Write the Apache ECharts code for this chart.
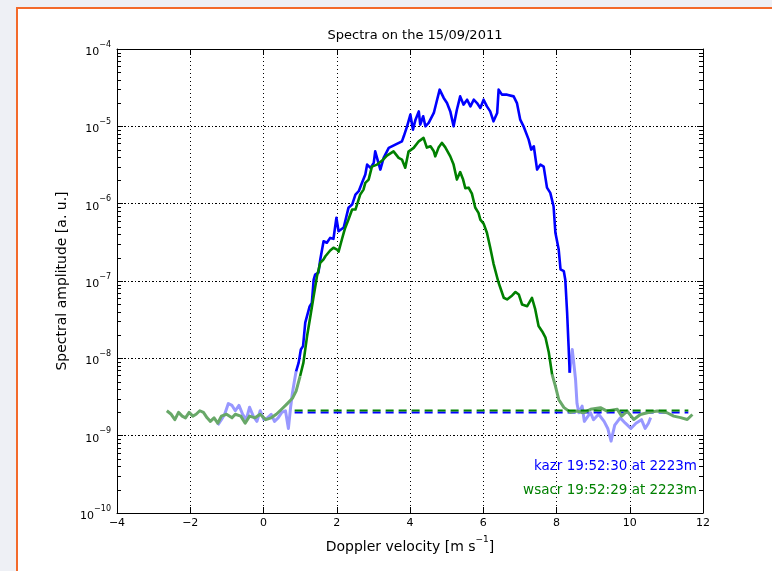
<!DOCTYPE html>
<html><head><meta charset="utf-8">
<script src="https://cdn.jsdelivr.net/npm/echarts@6/dist/echarts.min.js"></script>
<style>
html,body{margin:0;padding:0;background:#eef0f5;overflow:hidden;}
#frame{position:absolute;left:16px;top:7px;width:820px;height:620px;background:#fff;border:2px solid #f36a2b;}
#c{position:absolute;left:0;top:0;width:772px;height:571px;}
</style>
</head><body><div id="frame"></div><div id="c"></div>
<script>
// ---- data ----
const titleText = 'Spectra on the 15/09/2011';
const xName = 'Doppler velocity [m s';
const yName = 'Spectral amplitude [a. u.]';
const xRange = [-4, 12];
const xStep = 2;
const yDecades = [-10, -9, -8, -7, -6, -5, -4];
const kazrLabel = 'kazr 19:52:30 at 2223m';
const wsacrLabel = 'wsacr 19:52:29 at 2223m';

const kazrNoiseLeft = [[-1.25,1.37e-9],[-1.15,1.61e-9],[-1.06,1.89e-9],[-0.96,2.6e-9],[-0.86,2.46e-9],[-0.77,2.1e-9],[-0.67,2.46e-9],[-0.57,1.89e-9],[-0.47,1.61e-9],[-0.38,2.33e-9],[-0.28,1.79e-9],[-0.18,1.53e-9],[-0.09,2.1e-9],[0.01,1.61e-9],[0.11,1.7e-9],[0.21,1.89e-9],[0.30,1.53e-9],[0.40,1.7e-9],[0.50,2.0e-9],[0.60,2.1e-9],[0.68,1.24e-9],[0.74,2.33e-9],[0.79,3.56e-9],[0.85,5.3e-9],[0.89,6.8e-9]];
const kazrSignal = [[0.89,6.8e-9],[0.96,8.8e-9],[1.02,1.3e-8],[1.08,1.44e-8],[1.14,2.9e-8],[1.19,3.0e-8],[1.26,4.7e-8],[1.32,5.2e-8],[1.37,1.04e-7],[1.41,1.21e-7],[1.50,1.28e-7],[1.55,1.9e-7],[1.64,3.27e-7],[1.73,3.12e-7],[1.82,3.61e-7],[1.91,3.51e-7],[1.99,6.56e-7],[2.05,4.4e-7],[2.19,4.91e-7],[2.32,8.83e-7],[2.42,9.73e-7],[2.51,1.31e-6],[2.60,1.45e-6],[2.69,1.86e-6],[2.78,2.38e-6],[2.83,3.2e-6],[2.92,2.9e-6],[3.01,3.37e-6],[3.05,4.75e-6],[3.19,2.76e-6],[3.28,3.91e-6],[3.42,5.26e-6],[3.60,5.81e-6],[3.78,6.4e-6],[3.83,7.43e-6],[3.92,1.0e-5],[4.01,1.42e-5],[4.08,9.06e-6],[4.15,1.22e-5],[4.24,1.56e-5],[4.28,1.05e-5],[4.36,1.35e-5],[4.42,1.0e-5],[4.51,1.11e-5],[4.65,1.49e-5],[4.74,2.21e-5],[4.81,2.98e-5],[4.92,2.33e-5],[5.01,2.0e-5],[5.10,1.56e-5],[5.19,1.0e-5],[5.28,1.64e-5],[5.37,2.44e-5],[5.46,1.91e-5],[5.56,2.21e-5],[5.65,1.81e-5],[5.74,2.21e-5],[5.83,2.0e-5],[5.92,1.73e-5],[6.01,2.21e-5],[6.10,1.81e-5],[6.19,1.56e-5],[6.28,1.16e-5],[6.38,1.49e-5],[6.42,2.98e-5],[6.51,2.57e-5],[6.65,2.57e-5],[6.83,2.44e-5],[6.92,2.0e-5],[7.01,1.22e-5],[7.10,1.0e-5],[7.24,6.73e-6],[7.31,5.0e-6],[7.38,5.52e-6],[7.47,2.76e-6],[7.56,3.2e-6],[7.65,3.01e-6],[7.74,1.61e-6],[7.83,1.38e-6],[7.92,9.25e-7],[7.97,4.2e-7],[8.06,2.55e-7],[8.11,1.41e-7],[8.20,1.34e-7],[8.24,1.04e-7],[8.29,3.88e-8],[8.33,1.44e-8],[8.36,6.5e-9]];
const kazrNoiseRight = [[8.36,6.5e-9],[8.43,1.3e-8],[8.47,8.85e-9],[8.52,5.33e-9],[8.56,2.6e-9],[8.61,1.98e-9],[8.70,2.41e-9],[8.76,1.53e-9],[8.86,1.79e-9],[8.93,1.98e-9],[9.01,1.61e-9],[9.15,1.89e-9],[9.30,1.53e-9],[9.40,1.24e-9],[9.49,8.5e-10],[9.59,1.37e-9],[9.74,1.7e-9],[9.88,1.45e-9],[10.03,1.24e-9],[10.17,1.45e-9],[10.32,1.61e-9],[10.42,1.24e-9],[10.51,1.45e-9],[10.57,1.71e-9]];

const wsacrNoiseLeft = [[-2.64,2.1e-9],[-2.52,1.89e-9],[-2.42,1.61e-9],[-2.32,2.0e-9],[-2.22,1.79e-9],[-2.13,1.7e-9],[-2.03,2.0e-9],[-1.93,1.79e-9],[-1.84,1.89e-9],[-1.74,2.1e-9],[-1.64,2.0e-9],[-1.54,1.7e-9],[-1.45,1.53e-9],[-1.35,1.7e-9],[-1.25,1.45e-9],[-1.15,1.79e-9],[-1.01,1.89e-9],[-0.86,1.7e-9],[-0.77,1.89e-9],[-0.62,1.79e-9],[-0.50,1.45e-9],[-0.38,1.79e-9],[-0.23,1.7e-9],[-0.09,1.89e-9],[0.06,1.61e-9],[0.21,1.7e-9],[0.35,1.89e-9],[0.50,2.21e-9],[0.65,2.6e-9],[0.79,3.04e-9],[0.89,3.76e-9],[1.00,5.9e-9]];
const wsacrSignal = [[1.00,5.9e-9],[1.09,8.8e-9],[1.19,1.94e-8],[1.28,3.5e-8],[1.37,6.4e-8],[1.46,1.15e-7],[1.55,1.72e-7],[1.64,1.9e-7],[1.69,2.09e-7],[1.82,2.48e-7],[1.91,2.69e-7],[2.01,2.55e-7],[2.05,2.4e-7],[2.14,3.44e-7],[2.19,4.2e-7],[2.23,4.86e-7],[2.32,6.23e-7],[2.37,7.23e-7],[2.42,8.39e-7],[2.51,8.39e-7],[2.55,8.83e-7],[2.64,1.31e-6],[2.73,1.52e-6],[2.78,1.86e-6],[2.87,2.05e-6],[2.96,3.01e-6],[3.10,3.2e-6],[3.14,3.2e-6],[3.24,3.61e-6],[3.37,4.18e-6],[3.55,4.75e-6],[3.69,3.91e-6],[3.78,3.72e-6],[3.87,2.92e-6],[3.96,4.71e-6],[4.10,5.26e-6],[4.24,6.4e-6],[4.37,7.08e-6],[4.46,5.31e-6],[4.56,5.52e-6],[4.65,4.75e-6],[4.69,4.09e-6],[4.78,5.31e-6],[4.87,6.11e-6],[4.96,5.38e-6],[5.10,4.09e-6],[5.19,3.2e-6],[5.28,2.05e-6],[5.37,2.56e-6],[5.45,2.05e-6],[5.51,1.59e-6],[5.60,1.61e-6],[5.69,1.35e-6],[5.78,8.91e-7],[5.87,7.6e-7],[5.92,6.23e-7],[6.01,5.53e-7],[6.10,4.2e-7],[6.19,2.71e-7],[6.28,1.68e-7],[6.38,1.11e-7],[6.42,9.48e-8],[6.56,6.07e-8],[6.65,5.77e-8],[6.79,6.5e-8],[6.88,7.21e-8],[6.97,6.7e-8],[7.06,4.97e-8],[7.20,4.72e-8],[7.33,6.07e-8],[7.42,4.29e-8],[7.51,2.61e-8],[7.61,2.23e-8],[7.70,1.85e-8],[7.79,1.19e-8],[7.88,6.19e-9]];
const wsacrNoiseRight = [[7.88,6.19e-9],[7.97,4.38e-9],[8.06,2.94e-9],[8.20,2.32e-9],[8.38,2.0e-9],[8.56,2.08e-9],[8.74,1.98e-9],[8.93,2.19e-9],[9.20,2.3e-9],[9.38,2.08e-9],[9.66,2.19e-9],[9.78,1.79e-9],[9.93,2.08e-9],[10.11,1.62e-9],[10.29,1.88e-9],[10.48,1.98e-9],[10.75,2.08e-9],[11.02,1.98e-9],[11.20,1.79e-9],[11.39,1.71e-9],[11.57,1.62e-9],[11.71,1.88e-9]];

const kazrNoiseLevel = 2.0e-9;
const wsacrNoiseLevel = 2.12e-9;
const noiseLevelSpan = [0.85, 11.6];

// ---- styles ----
const FONT = 'DejaVu Sans';
const BLUE = '#0000ff', LBLUE = '#9898ff', GREEN = '#008000', LGREEN = '#68a868';

function yLab(v) {
  const e = Math.round(Math.log10(v));
  return '{b|10}{s|\u2212' + (-e) + '}';
}
const yRich = {
  b: {fontSize: 11, fontFamily: FONT, color: '#000', padding: [6, 0, 0, 0], verticalAlign: 'bottom'},
  s: {fontSize: 8, fontFamily: FONT, color: '#000', verticalAlign: 'top'}
};

function lineSeries(data, color, width, z, dash) {
  return {
    type: 'line', data: data, showSymbol: false, symbol: 'none', silent: true,
    xAxisIndex: 0, yAxisIndex: 0, z: z, animation: false,
    lineStyle: {color: color, width: width, type: dash || 'solid', join: 'round'}
  };
}
function level(v) { return [[noiseLevelSpan[0], v], [noiseLevelSpan[1], v]]; }

const chart = echarts.init(document.getElementById('c'), null, {renderer: 'canvas'});
const axisLine = {show: true, onZero: false, lineStyle: {color: '#000', width: 1}};
const labels = [
  {type: 'text', z: 100, style: {text: kazrLabel, x: 697, y: 466, align: 'right', verticalAlign: 'middle',
    fill: BLUE, fontFamily: FONT, fontSize: 13.5}},
  {type: 'text', z: 100, style: {text: wsacrLabel, x: 697, y: 490, align: 'right', verticalAlign: 'middle',
    fill: GREEN, fontFamily: FONT, fontSize: 13.5}}
];
const option = {
  animation: false,
  backgroundColor: 'transparent',
  title: {text: titleText, left: 410, top: 24, textAlign: 'center',
    textStyle: {fontFamily: FONT, fontSize: 13, fontWeight: 'normal', color: '#000'}},
  grid: {left: 117, top: 49, width: 586, height: 464, containLabel: false},
  xAxis: [{
    type: 'value', min: xRange[0], max: xRange[1], interval: xStep, position: 'bottom',
    axisLine: axisLine,
    axisTick: {show: true, inside: true, length: 6, lineStyle: {color: '#000'}},
    axisLabel: {color: '#000', fontFamily: FONT, fontSize: 11, margin: 5,
      formatter: v => (v < 0 ? '\u2212' + (-v) : String(v))},
    splitLine: {show: true, lineStyle: {color: '#000', width: 1, type: [1, 3]}},
    name: '{a|' + xName + '}{s|\u22121}{a|]}', nameLocation: 'middle', nameGap: 22,
    nameTextStyle: {rich: {
      a: {fontSize: 14, fontFamily: FONT, color: '#000', padding: [5, 0, 0, 0], verticalAlign: 'bottom'},
      s: {fontSize: 9, fontFamily: FONT, color: '#000', verticalAlign: 'top'}}}
  }, {
    type: 'value', min: xRange[0], max: xRange[1], interval: xStep, position: 'top',
    axisLine: axisLine,
    axisTick: {show: true, inside: true, length: 6, lineStyle: {color: '#000'}},
    axisLabel: {show: false}, splitLine: {show: false}
  }],
  yAxis: [{
    type: 'log', logBase: 10, min: Math.pow(10, yDecades[0]), max: Math.pow(10, yDecades[yDecades.length - 1]),
    position: 'left',
    axisLine: axisLine,
    axisTick: {show: true, inside: true, length: 6, lineStyle: {color: '#000'}},
    axisLabel: {formatter: yLab, rich: yRich, margin: 6},
    splitLine: {show: true, lineStyle: {color: '#000', width: 1, type: [2, 2, 1, 2]}},
    name: yName, nameLocation: 'middle', nameGap: 35, nameRotate: 90,
    nameTextStyle: {fontFamily: FONT, fontSize: 14, color: '#000'}
  }, {
    type: 'log', logBase: 10, min: Math.pow(10, yDecades[0]), max: Math.pow(10, yDecades[yDecades.length - 1]),
    position: 'right',
    axisLine: axisLine,
    axisTick: {show: true, inside: true, length: 6, lineStyle: {color: '#000'}},
    axisLabel: {show: false}, splitLine: {show: false}
  }],
  graphic: labels,
  series: [
    lineSeries(kazrNoiseLeft, LBLUE, 3, 2),
    lineSeries(kazrNoiseRight, LBLUE, 3, 2),
    lineSeries(kazrSignal, BLUE, 2.6, 2),
    lineSeries(level(kazrNoiseLevel), BLUE, 2, 2, [8, 5]),
    lineSeries(wsacrNoiseLeft, LGREEN, 3, 2),
    lineSeries(wsacrNoiseRight, LGREEN, 3, 2),
    lineSeries(wsacrSignal, GREEN, 2.6, 2),
    lineSeries(level(wsacrNoiseLevel), GREEN, 2, 2, [8, 5])
  ]
};
chart.setOption(option);

// minor ticks of the log axis (2..9 x 10^n) on both frame edges, placed through the axis scales
const minorTicks = [];
const xl = chart.convertToPixel({xAxisIndex: 0}, xRange[0]);
const xr = chart.convertToPixel({xAxisIndex: 0}, xRange[1]);
for (let i = 0; i < yDecades.length - 1; i++) {
  for (let k = 2; k <= 9; k++) {
    const py = Math.round(chart.convertToPixel({yAxisIndex: 0}, k * Math.pow(10, yDecades[i]))) + 0.5;
    minorTicks.push({type: 'line', z: 50, silent: true,
      shape: {x1: xl, y1: py, x2: xl + 4, y2: py}, style: {stroke: '#000', lineWidth: 1}});
    minorTicks.push({type: 'line', z: 50, silent: true,
      shape: {x1: xr - 4, y1: py, x2: xr, y2: py}, style: {stroke: '#000', lineWidth: 1}});
  }
}
chart.setOption({graphic: labels.concat(minorTicks)});
</script>
</body></html>
